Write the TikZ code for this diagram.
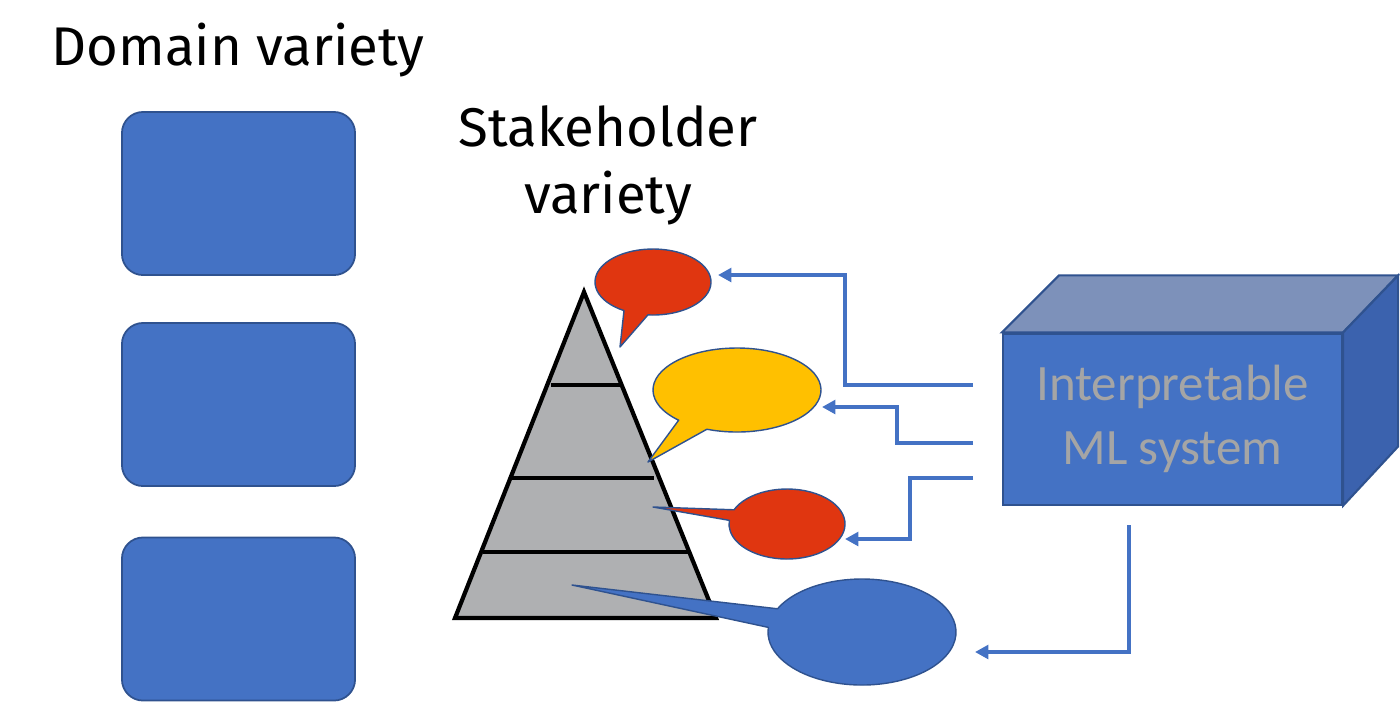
\documentclass[tikz,border=0pt]{standalone}
\usepackage{fontspec}
\usepackage{tikz}
\usetikzlibrary{calc,positioning,arrows.meta}
\newfontfamily\handfont{Fira Sans}
\newfontfamily\boxfont{Carlito}
\definecolor{boxblue}{HTML}{4472C4}
\definecolor{edgeblue}{HTML}{2F528F}
\definecolor{bubred}{HTML}{E03610}
\definecolor{bubyellow}{HTML}{FFC000}
\definecolor{pyrgray}{HTML}{AFB0B2}
\definecolor{topgray}{HTML}{7D91BA}
\definecolor{sideblue}{HTML}{3B62AE}
\definecolor{labelgray}{HTML}{A5A5A5}
\tikzset{
x=0.01cm, y=-0.01cm, % pixel-like grid, y going down
title/.style={font=\handfont\fontsize{15.5pt}{19pt}\selectfont, align=center},
domainbox/.style={draw=edgeblue, fill=boxblue, line width=0.5pt, rounded corners=6pt,
    minimum width=2.33cm, minimum height=1.63cm},
bubble/.style={draw=edgeblue, line width=0.4pt, line join=round},
feed/.style={draw=boxblue, line width=1.3pt, -{Triangle[length=3.8pt,width=3.9pt]}},
level/.style={line width=1.2pt},
}

\begin{document}
\begin{tikzpicture}
   \useasboundingbox (0,0) rectangle (1400,702);
   % domain column
   \node[title] (dom) at (238,50) {Domain variety};
   \node[domainbox] (d1) at (238.5,193.5) {};
   \node[domainbox] (d2) at (238.5,404.5) {};
   \node[domainbox] (d3) at (238.5,619) {};
   % stakeholder pyramid
   \node[title] (stake) at (608,165) {Stakeholder\\variety};
   \coordinate (apex) at (584,292);
   \coordinate (bl) at (455,618);
   \coordinate (br) at (716,618);
   \draw[level, fill=pyrgray, line join=miter] (apex) -- (br) -- (bl) -- cycle;
   \draw[level] (551,385) -- (620,385);
   \draw[level] (512,478) -- (654,478);
   \draw[level] (483,552) -- (688,552);
   % speech bubbles
   \coordinate (rb1) at (653,282);
   \coordinate (yb) at (737,390);
   \coordinate (rb2) at (787,524);
   \coordinate (bb) at (862,632);
   \draw[bubble, fill=bubred] ($(rb1)+(95:58 and 33)$) -- (620,347)
      -- ($(rb1)+(120:58 and 33)$) arc[start angle=120, end angle=455, x radius=58, y radius=33] -- cycle;
   \draw[bubble, fill=bubyellow] ($(yb)+(111:84 and 42)$) -- (648,462)
      -- ($(yb)+(134:84 and 42)$) arc[start angle=134, end angle=471, x radius=84, y radius=42] -- cycle;
   \draw[bubble, fill=bubred] ($(rb2)+(186:58 and 35)$) -- (653,507)
      -- ($(rb2)+(204:58 and 35)$) arc[start angle=204, end angle=546, x radius=58, y radius=35] -- cycle;
   \draw[bubble, fill=boxblue] ($(bb)+(185:94 and 53)$) -- (572,585)
      -- ($(bb)+(206:94 and 53)$) arc[start angle=206, end angle=545, x radius=94, y radius=53] -- cycle;
   % the ML system block
   \node[draw=edgeblue, fill=boxblue, line width=0.6pt, minimum width=3.39cm, minimum height=1.71cm,
      text=labelgray, font=\boxfont\fontsize{14.5pt}{18pt}\selectfont, align=center] (ml) at (1172.5,419)
      {Interpretable\\ML system};
   \draw[edgeblue, fill=topgray, line width=0.6pt] (ml.north west) -- ++(57,-57) -- ++(339,0) -- (ml.north east) -- cycle;
   \draw[edgeblue, fill=sideblue, line width=0.6pt] (ml.north east) -- ++(55,-57) -- ++(0,171) -- (ml.south east) -- cycle;
   % explanations going out
   \coordinate (o1) at (973,385);
   \coordinate (o2) at (973,443);
   \coordinate (o3) at (973,478);
   \coordinate (o4) at (1129,525);
   \coordinate (t1) at (718,275);
   \coordinate (t2) at (822,407);
   \coordinate (t3) at (845,539);
   \coordinate (t4) at (975,652);
   \draw[feed] (o1) -| (845,275) -- (t1);
   \draw[feed] (o2) -| (897,407) -- (t2);
   \draw[feed] (o3) -| (910,539) -- (t3);
   \draw[feed] (o4) |- (t4);
\end{tikzpicture}
\end{document}
